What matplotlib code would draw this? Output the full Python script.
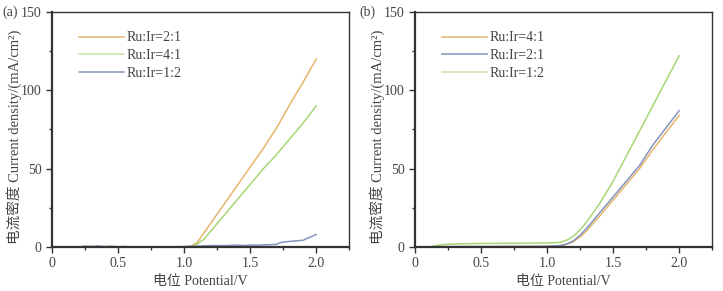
import numpy as np
import matplotlib.pyplot as plt
from matplotlib.ticker import MultipleLocator, FixedFormatter, FixedLocator

plt.rcParams['font.family'] = ['Liberation Serif', 'Noto Sans CJK SC']
plt.rcParams['font.size'] = 10

# ---- panel (a) ----
va = [0.25, 0.3, 0.4, 0.5, 0.6, 0.7, 0.8, 0.9, 1.0, 1.05, 1.1, 1.15, 1.2, 1.3, 1.4, 1.5, 1.6, 1.7, 1.8, 1.9, 2.0]
a_21 = [0, 0, 0, 0, 0, 0, 0, 0, 0.2, 0.6, 3, 9, 15, 27, 39, 51, 63, 76, 91, 105, 120]
a_41 = [0, 0, 0, 0, 0, 0, 0, 0, 0.2, 0.4, 2, 5, 10, 20, 30, 40, 50, 59, 69, 79, 90]
va_12 = [0.24, 0.3, 0.35, 0.4, 0.45, 0.5, 0.55, 0.6, 0.7, 0.8, 0.9, 1.0, 1.05, 1.1, 1.15, 1.2, 1.25, 1.3,
         1.35, 1.4, 1.45, 1.5, 1.55, 1.6, 1.65, 1.7, 1.72, 1.75, 1.8, 1.85, 1.9, 1.93, 1.96, 2.0]
a_12 = [0.6, 0.4, 0.7, 0.3, 0.5, 0.2, 0.4, 0.1, 0.2, 0.1, 0.2, 0.3, 0.4, 0.6, 0.8, 0.9, 1.0, 0.9,
        1.1, 1.2, 1.0, 1.3, 1.2, 1.4, 1.5, 1.7, 2.6, 3.2, 3.6, 4.0, 4.3, 5.5, 6.5, 8.0]

# ---- panel (b) ----
vb = [0.1, 0.15, 0.2, 0.3, 0.5, 0.8, 1.0, 1.1, 1.15, 1.2, 1.25, 1.3, 1.4, 1.5, 1.6, 1.7, 1.8, 1.9, 2.0]
b_41 = [0, 0.1, 0.2, 0.3, 0.3, 0.4, 0.4, 0.8, 1.8, 3.5, 6.5, 10.5, 20, 30, 40, 50, 62, 73, 84]
b_21 = [0, 0.1, 0.2, 0.3, 0.3, 0.4, 0.5, 1.0, 2.0, 4.0, 7.5, 12, 22, 32, 42, 52, 65, 76, 87]
b_12 = [0, 0.8, 1.5, 2.0, 2.3, 2.4, 2.6, 3.0, 4.5, 7.0, 11, 16, 28, 42, 58, 74, 90, 106, 122]

orange = '#e6b56c'
green = '#c8e0a0'
green_line = '#a6d674'
blue = '#8494bc'

fig = plt.figure(figsize=(7.23, 2.91), dpi=100)
ax1 = fig.add_axes([0.072, 0.151, 0.411, 0.808])
ax2 = fig.add_axes([0.574, 0.151, 0.411, 0.808])

ax1.plot(va, a_21, color=orange, lw=1.1, label='Ru:Ir=2:1')
ax1.plot(va, a_41, color=green_line, lw=1.1, label='Ru:Ir=4:1')
ax1.plot(va_12, a_12, color=blue, lw=1.1, label='Ru:Ir=1:2')

ax2.plot(vb, b_41, color=orange, lw=1.1, label='Ru:Ir=4:1')
ax2.plot(vb, b_21, color=blue, lw=1.1, label='Ru:Ir=2:1')
ax2.plot(vb, b_12, color=green_line, lw=1.1, label='Ru:Ir=1:2')

for ax, tag, tx in [(ax1, '(a)', -0.14), (ax2, '(b)', -0.16)]:
    ax.set_xlim(0, 2.25)
    ax.set_ylim(0, 150)
    ax.xaxis.set_major_locator(FixedLocator([0, 0.5, 1.0, 1.5, 2.0]))
    ax.xaxis.set_major_formatter(FixedFormatter(['0', '0.5', '1.0', '1.5', '2.0']))
    ax.xaxis.set_minor_locator(MultipleLocator(0.25))
    ax.yaxis.set_major_locator(MultipleLocator(50))
    ax.yaxis.set_minor_locator(MultipleLocator(25))
    ax.tick_params(which='major', direction='out', length=4, width=1, colors='#333333', labelcolor='#444444')
    ax.tick_params(which='minor', direction='out', length=2.5, width=1, colors='#333333')
    for s in ax.spines.values():
        s.set_color('#333333')
        s.set_linewidth(1.0)
    ax.spines['left'].set_linewidth(1.6)
    ax.spines['bottom'].set_linewidth(1.6)
    ax.set_xlabel('电位 Potential/V', color='#444444', labelpad=3)
    ax.set_ylabel('电流密度 Current density/(mA/cm²)', color='#444444', fontsize=10.5)
    ax.yaxis.set_label_coords(-0.10, 0.47)
    leg = ax.legend(loc='upper left', bbox_to_anchor=(0.05, 0.97), frameon=False,
                    handlelength=3.2, handletextpad=0.2, labelspacing=0.35)
    for t in leg.get_texts():
        t.set_color('#444444')
    ax.text(tx, 1.0, tag, transform=ax.transAxes, ha='center', va='center', color='#444444')

# legend colour for 4:1 in (a) and 1:2 in (b) is paler than the plotted line
ax1.get_legend().get_lines()[1].set_color(green)
ax2.get_legend().get_lines()[2].set_color(green)

fig.savefig('out.png', dpi=100)
